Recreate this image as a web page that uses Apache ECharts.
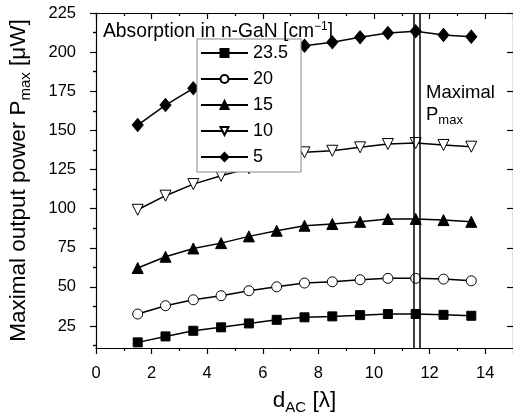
<!DOCTYPE html>
<html>
<head>
<meta charset="utf-8">
<script src="https://cdn.jsdelivr.net/npm/echarts@6/dist/echarts.min.js"></script>
<style>
  html, body { margin: 0; padding: 0; background: #fff; }
  #chart { width: 513px; height: 416px; }
</style>
</head>
<body>
<div id="chart"></div>
<script>
const xValues = [1.5, 2.5, 3.5, 4.5, 5.5, 6.5, 7.5, 8.5, 9.5, 10.5, 11.5, 12.5, 13.5];
const abs235 = [14.6, 18.4, 22.0, 24.2, 26.7, 29.0, 30.6, 31.2, 32.0, 32.7, 32.7, 32.2, 31.6];
const abs20 = [32.7, 38.0, 41.8, 44.4, 47.6, 50.1, 52.5, 53.3, 54.6, 55.5, 55.5, 55.0, 53.9];
const abs15 = [62.1, 69.3, 74.6, 78.0, 82.3, 85.9, 89.1, 90.2, 91.6, 93.4, 93.4, 92.7, 91.6];
const abs10 = [99.3, 108.3, 115.7, 121.0, 125.8, 131.0, 136.0, 137.0, 139.2, 141.3, 141.9, 140.7, 139.6];
const abs5 = [153.4, 166.2, 176.9, 186.0, 193.0, 200.0, 204.1, 206.3, 209.5, 212.2, 213.3, 211.0, 209.9];
const maxLines = [11.42, 11.65];
const xTicks = [0, 2, 4, 6, 8, 10, 12, 14];
const yTicks = [25, 50, 75, 100, 125, 150, 175, 200, 225];
const yMinorTicks = [12.5, 37.5, 62.5, 87.5, 112.5, 137.5, 162.5, 187.5, 212.5];

const font = 'Liberation Sans, Arial, sans-serif';
const zip = (ys) => xValues.map((x, i) => [x, ys[i]]);

const chart = echarts.init(document.getElementById('chart'));

const baseY = {
  type: 'value', min: 11, max: 225,
  splitLine: { show: false },
  axisLine: { show: false }
};

function mkSeries(name, data, symbol, size, fill, rotate) {
  return {
    name, type: 'line', data: zip(data),
    symbol, symbolSize: size, symbolRotate: rotate || 0,
    showSymbol: true,
    lineStyle: { color: '#000', width: 1.5 },
    itemStyle: { color: fill, borderColor: '#000', borderWidth: 1 },
    emphasis: { disabled: true },
    z: 3
  };
}

const series = [
  mkSeries('23.5', abs235, 'rect', 9, '#000'),
  mkSeries('20', abs20, 'circle', 10, '#fff'),
  mkSeries('15', abs15, 'triangle', 11, '#000'),
  mkSeries('10', abs10, 'triangle', 11, '#fff', 180),
  mkSeries('5', abs5, 'diamond', [11, 13], '#000')
];
series[0].markLine = {
  silent: true, symbol: 'none', label: { show: false },
  lineStyle: { color: '#000', width: 1.5, type: 'solid' },
  data: maxLines.map(v => ({ xAxis: v }))
};

chart.setOption({
  animation: false,
  backgroundColor: '#fff',
  textStyle: { fontFamily: font },
  grid: { left: 96, top: 13, right: 0, bottom: 68, outerBoundsMode: 'none', containLabel: false },
  xAxis: [
    {
      type: 'value', min: 0, max: 15, interval: 2,
      name: '{n|d}{s|AC}{n| [λ]}', nameLocation: 'middle', nameGap: 39,
      nameTextStyle: { rich: {
        n: { fontSize: 22.5, color: '#000', fontFamily: font },
        s: { fontSize: 15, color: '#000', fontFamily: font, verticalAlign: 'bottom', padding: [13, 0, 0, 0] }
      } },
      axisLine: { onZero: false, lineStyle: { color: '#000', width: 1.2 } },
      axisTick: { length: 6, lineStyle: { color: '#000', width: 1.2 } },
      minorTick: { show: true, splitNumber: 2, length: 3, lineStyle: { color: '#000', width: 1.2 } },
      axisLabel: { customValues: xTicks, fontSize: 16.5, color: '#000', margin: 17, fontFamily: font },
      splitLine: { show: false }, minorSplitLine: { show: false }
    },
    {
      type: 'value', min: 0, max: 15, interval: 2, position: 'top',
      axisLine: { onZero: false, lineStyle: { color: '#000', width: 1.2 } },
      axisTick: { inside: true, length: 6, lineStyle: { color: '#000', width: 1.2 } },
      minorTick: { show: true, splitNumber: 2, length: 3, lineStyle: { color: '#000', width: 1.2 } },
      axisLabel: { show: false },
      splitLine: { show: false }, minorSplitLine: { show: false }
    }
  ],
  yAxis: [
    Object.assign({}, baseY, {
      position: 'left',
      name: '{n|Maximal output power P}{s|max}{n| [μW]}', nameLocation: 'middle', nameGap: 63,
      nameTextStyle: { rich: {
        n: { fontSize: 22.5, color: '#000', fontFamily: font },
        s: { fontSize: 15, color: '#000', fontFamily: font, verticalAlign: 'bottom', padding: [13, 0, 0, 0] }
      } },
      axisLine: { show: true, onZero: false, lineStyle: { color: '#000', width: 1.2 } },
      axisTick: { customValues: yTicks, length: 6, lineStyle: { color: '#000', width: 1.2 } },
      axisLabel: { customValues: yTicks, fontSize: 16.5, color: '#000', margin: 20, fontFamily: font }
    }),
    Object.assign({}, baseY, {
      position: 'left',
      axisTick: { customValues: yMinorTicks, length: 3, lineStyle: { color: '#000', width: 1.2 } },
      axisLabel: { show: false }
    }),
    Object.assign({}, baseY, {
      position: 'right',
      axisLine: { show: true, onZero: false, lineStyle: { color: '#000', width: 1.2 } },
      axisTick: { customValues: yTicks, inside: true, length: 6, lineStyle: { color: '#000', width: 1.2 } },
      axisLabel: { show: false }
    }),
    Object.assign({}, baseY, {
      position: 'right',
      axisTick: { customValues: yMinorTicks, inside: true, length: 3, lineStyle: { color: '#000', width: 1.2 } },
      axisLabel: { show: false }
    })
  ],
  legend: {
    orient: 'vertical', left: 197, top: 39,
    padding: [5, 13, 6, 3], itemGap: 8,
    itemWidth: 47, itemHeight: 10,
    backgroundColor: '#fff', borderColor: '#888', borderWidth: 1,
    textStyle: { fontSize: 18, color: '#000', fontFamily: font },
    data: ['23.5', '20', '15', '10', '5'],
    z: 10
  },
  graphic: [
    {
      type: 'text', left: 103, top: 21, z: 20,
      style: {
        text: '{n|Absorption in n-GaN [cm}{p|−1}{n|]}',
        rich: {
          n: { fontSize: 19.3, fill: '#000', fontFamily: font },
          p: { fontSize: 12, fill: '#000', fontFamily: font, verticalAlign: 'top', padding: [0, 0, 9, 0] }
        }
      }
    },
    {
      type: 'text', left: 426, top: 83, z: 20,
      style: { text: 'Maximal', fontSize: 18.5, fill: '#000', fontFamily: font }
    },
    {
      type: 'text', left: 426, top: 105, z: 20,
      style: {
        text: '{n|P}{s|max}',
        rich: {
          n: { fontSize: 18.5, fill: '#000', fontFamily: font },
          s: { fontSize: 13, fill: '#000', fontFamily: font, padding: [12, 0, 0, 0] }
        }
      }
    }
  ],
  series
});
</script>
</body>
</html>
